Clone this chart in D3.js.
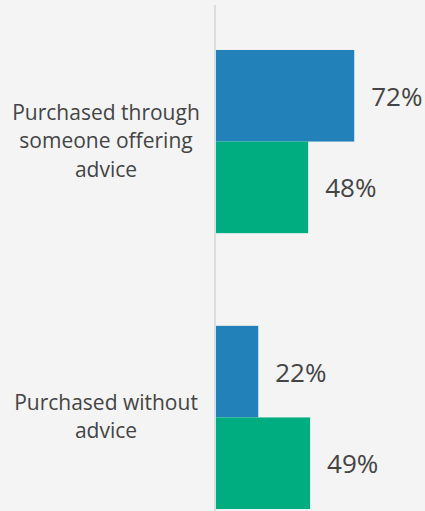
<!DOCTYPE html>
<html><head><meta charset="utf-8">
<script src="https://cdn.jsdelivr.net/npm/d3@7"></script>
<style>html,body{margin:0;padding:0;background:#f4f4f4;}svg{display:block;}</style>
</head><body>
<script>
const categories = ["Purchased through someone offering advice", "Purchased without advice"];
const categoryLines = [["Purchased through", "someone offering", "advice"], ["Purchased without", "advice"]];
const seriesNames = ["Series A", "Series B"];
const seriesA = [72, 22];
const seriesB = [48, 49];
const colors = ["#2281b9", "#00ad80"];

const W = 425, H = 511;
const svg = d3.select("body").append("svg").attr("width", W).attr("height", H);
svg.append("rect").attr("width", W).attr("height", H).attr("fill", "#f4f4f4");

const x0 = 216;
const x = d3.scaleLinear().domain([0, 100]).range([x0, x0 + 192]);
const y = d3.scaleBand().domain(categories).range([5, 554]).paddingInner(0.336).paddingOuter(0.163);
const ySub = d3.scaleBand().domain(seriesNames).range([0, y.bandwidth()]);

const data = [];
categories.forEach((c, i) => {
  data.push({cat: c, s: seriesNames[0], v: seriesA[i], color: colors[0]});
  data.push({cat: c, s: seriesNames[1], v: seriesB[i], color: colors[1]});
});

svg.selectAll("rect.bar").data(data).enter().append("rect")
  .attr("class", "bar")
  .attr("x", x(0))
  .attr("y", d => y(d.cat) + ySub(d.s))
  .attr("width", d => x(d.v) - x(0))
  .attr("height", ySub.bandwidth())
  .attr("fill", d => d.color);

svg.selectAll("text.val").data(data).enter().append("text")
  .attr("class", "val")
  .attr("x", d => x(d.v) + 17)
  .attr("y", d => y(d.cat) + ySub(d.s) + ySub.bandwidth() / 2 + 10)
  .attr("font-family", "'Open Sans', sans-serif")
  .attr("font-size", 26)
  .attr("fill", "#444")
  .text(d => d.v + "%");

// axis line
svg.append("line")
  .attr("x1", 215).attr("x2", 215)
  .attr("y1", 5).attr("y2", H)
  .attr("stroke", "#dcdcdc").attr("stroke-width", 2);

const lh = 28.5;
categories.forEach((c, i) => {
  const lines = categoryLines[i];
  const cy = y(c) + y.bandwidth() / 2;
  const t = svg.append("text")
    .attr("text-anchor", "middle")
    .attr("font-family", "'Open Sans', sans-serif")
    .attr("font-size", 21)
    .attr("fill", "#444");
  lines.forEach((ln, j) => {
    t.append("tspan").attr("x", 106)
      .attr("y", cy - (lines.length - 1) / 2 * lh + 6.5 + j * lh)
      .text(ln);
  });
});
</script>
</body></html>
